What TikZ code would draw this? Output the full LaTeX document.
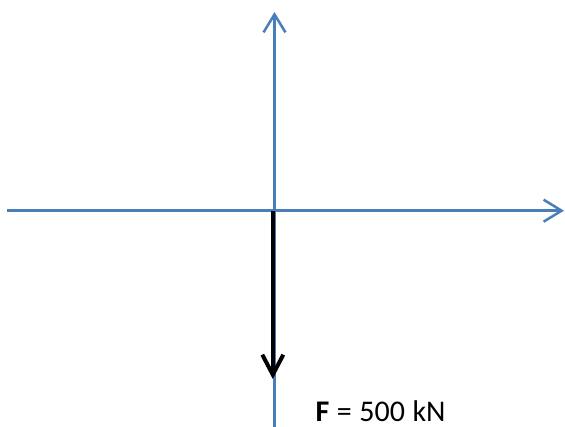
\documentclass[tikz,border=0pt]{standalone}
\usepackage{fontspec}
\setmainfont{Carlito}
\usetikzlibrary{arrows.meta}
\definecolor{axisblue}{RGB}{74,126,187}
\newcommand{\forcefont}{\fontsize{30}{34}\selectfont\spaceskip=7.5pt\relax}

\begin{document}
\begin{tikzpicture}[x=1pt, y=-1pt,
  axis/.style={line width=2.5, draw=axisblue, -{Straight Barb[length=18pt,width=22pt]}},
  force/.style={line width=4, draw=black, -{Straight Barb[length=20pt,width=21pt]}}]

  \useasboundingbox (0,0) rectangle (565,427);

  \coordinate (O) at (274.5, 210.7);
  \coordinate (xstart) at (7, 210.7);
  \coordinate (xend) at (564, 210.7);
  \coordinate (ystart) at (274.5, 427);
  \coordinate (yend) at (274.5, 12);
  \coordinate (Ftop) at (272.8, 210.7);
  \coordinate (Fend) at (272.8, 379);

  \draw[axis] (xstart) -- (xend);
  \draw[axis] (ystart) -- (yend);
  \draw[force] (Ftop) -- (Fend);

  \node[anchor=base west, inner sep=0, font=\forcefont]
    (Flabel) at (315.5, 421) {\textbf{F} = 500 kN};
\end{tikzpicture}
\end{document}
